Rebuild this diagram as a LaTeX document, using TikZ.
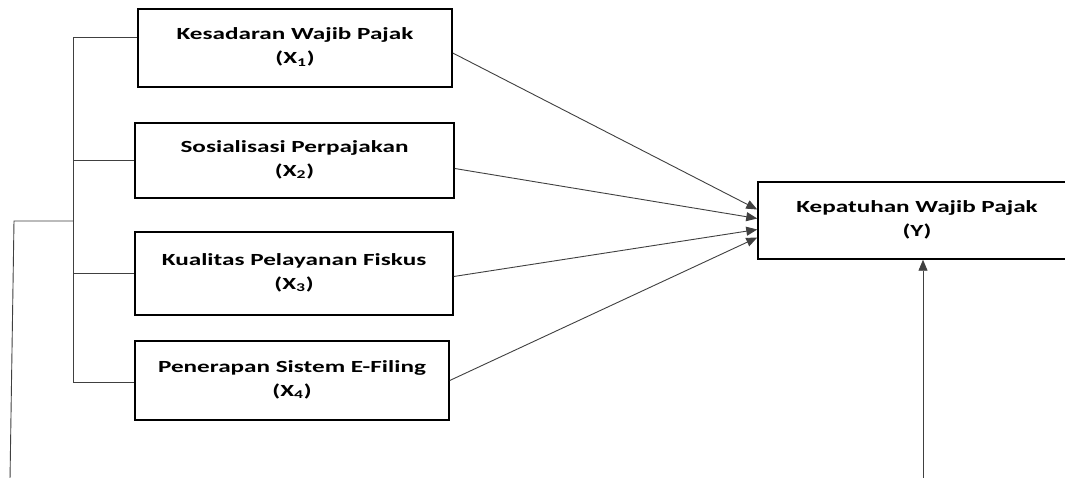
\documentclass[tikz,border=0pt]{standalone}
\usepackage{fontspec}
\setmainfont{Carlito}
\usetikzlibrary{arrows.meta}
\newcommand{\twolines}[2]{\raisebox{-4pt}{\scalebox{1.48}[1]{\begin{tabular}{@{}c@{}}#1\\[5pt]#2\end{tabular}}}}
\begin{document}
\begin{tikzpicture}[x=1pt,y=-1pt,
  varbox/.style={draw=black,line width=1.5pt,rectangle,align=center,
    font=\fontsize{17}{19}\selectfont\bfseries,inner sep=0pt},
  conn/.style={draw=black!75,line width=0.9pt},
  arr/.style={conn,-{Triangle[length=11pt,width=9pt]}}]
\useasboundingbox[fill=white] (0,0) rectangle (1065,478);
\node[varbox,minimum width=314pt,minimum height=78pt] (x1) at (295,48) {\twolines{Kesadaran Wajib Pajak}{(X\textsubscript{1})}};
\node[varbox,minimum width=319pt,minimum height=75pt] (x2) at (294.5,160.5) {\twolines{Sosialisasi Perpajakan}{(X\textsubscript{2})}};
\node[varbox,minimum width=318pt,minimum height=83pt] (x3) at (294,273.5) {\twolines{Kualitas Pelayanan Fiskus}{(X\textsubscript{3})}};
\node[varbox,minimum width=314pt,minimum height=79pt] (x4) at (292,380.5) {\twolines{Penerapan Sistem E-Filing}{(X\textsubscript{4})}};
\node[varbox,minimum width=318pt,minimum height=77pt] (y) at (917,220.5) {\twolines{Kepatuhan Wajib Pajak}{(Y)}};
% arrows to Y
\draw[arr] ([yshift=-5pt]x1.east) -- ([yshift=11pt]y.west);
\draw[arr] ([yshift=-8pt]x2.east) -- ([yshift=2pt]y.west);
\draw[arr] ([yshift=-3pt]x3.east) -- ([yshift=-9pt]y.west);
\draw[arr] (x4.east) -- ([yshift=-17pt]y.west);
% bracket
\coordinate (bt) at (73,37);
\coordinate (bb) at (73,382);
\coordinate (bm) at (73,221);
\coordinate (lt) at (14,221);
\coordinate (lb) at (10,480);
\draw[conn] (bt -| x1.west) -- (bt) -- (bb) -- (bb -| x4.west);
\draw[conn] (bt |- x2.west) -- (x2.west);
\draw[conn] (bt |- x3.west) -- (x3.west);
\draw[conn] (bm) -- (lt) -- (lb);
% bottom arrow into Y
\coordinate (ub) at (923,480);
\draw[arr] (ub) -- (ub |- y.south);
\end{tikzpicture}
\end{document}
